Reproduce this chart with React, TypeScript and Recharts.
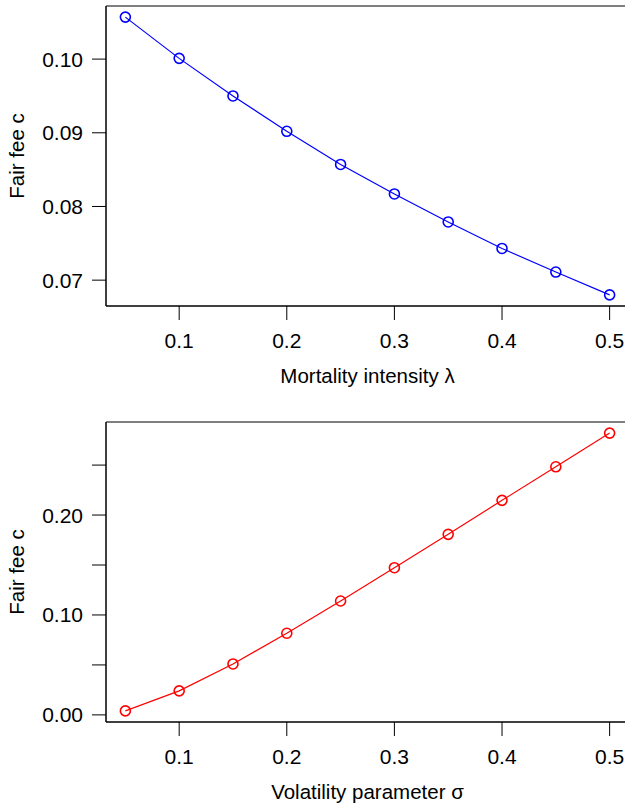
import React from 'react'
import { LineChart, Line, XAxis, YAxis, ReferenceArea, Label } from 'recharts'

const xValues = [0.05, 0.1, 0.15, 0.2, 0.25, 0.3, 0.35, 0.4, 0.45, 0.5]
const mortalityFee = [0.1057, 0.1001, 0.095, 0.0902, 0.0857, 0.0817, 0.0779, 0.0743, 0.0711, 0.068]
const volatilityFee = [0.004, 0.024, 0.051, 0.0817, 0.114, 0.1473, 0.1807, 0.2147, 0.2483, 0.282]

const xTicks = [0.1, 0.2, 0.3, 0.4, 0.5]
const xTickLabels = ['0.1', '0.2', '0.3', '0.4', '0.5']
const mortalityTicks = [0.07, 0.08, 0.09, 0.1]
const mortalityTickLabels = ['0.07', '0.08', '0.09', '0.10']
const volatilityTicks = [0, 0.05, 0.1, 0.15, 0.2, 0.25]
const volatilityTickLabels = ['0.00', '', '0.10', '', '0.20', '']

const FONT = '"Liberation Sans", Arial, sans-serif'

// R-style axis range: data range padded by 4% on each side
function padRange(values: number[]): [number, number] {
  const min = Math.min(...values)
  const max = Math.max(...values)
  const pad = (max - min) * 0.04
  return [min - pad, max + pad]
}

function labelFor(ticks: number[], labels: string[]) {
  return (v: number) => {
    const i = ticks.findIndex(t => Math.abs(t - v) < 1e-9)
    return i >= 0 ? labels[i] : ''
  }
}

interface PanelProps {
  values: number[]
  color: string
  yTicks: number[]
  yTickLabels: string[]
  xLabel: string
  height: number
  axisHeight: number
}

function Panel({ values, color, yTicks, yTickLabels, xLabel, height, axisHeight }: PanelProps) {
  const data = xValues.map((x, i) => ({ x, y: values[i] }))
  const xDomain = padRange(xValues)
  const yDomain = padRange(values)
  const tickStyle = { fontSize: 21, fontFamily: FONT, fill: '#000' }

  return (
    <LineChart
      width={640}
      height={height}
      data={data}
      margin={{ top: 6, right: 11, bottom: height - 306 - axisHeight, left: 10 }}
    >
      <XAxis
        type="number"
        dataKey="x"
        domain={xDomain}
        ticks={xTicks}
        tickFormatter={labelFor(xTicks, xTickLabels)}
        allowDataOverflow
        height={axisHeight}
        tickSize={14}
        tickMargin={13}
        tick={tickStyle}
        stroke="#000"
        axisLine={{ stroke: '#000' }}
        tickLine={{ stroke: '#000' }}
      >
        <Label
          content={(props: any) => {
            const vb = props.viewBox
            return (
              <text
                x={vb.x + vb.width / 2}
                y={vb.y + 77}
                textAnchor="middle"
                fontSize={20.5}
                fontFamily={FONT}
                fill="#000"
              >
                {xLabel}
              </text>
            )
          }}
        />
      </XAxis>
      <YAxis
        type="number"
        dataKey="y"
        domain={yDomain}
        ticks={yTicks}
        tickFormatter={labelFor(yTicks, yTickLabels)}
        allowDataOverflow
        width={96}
        tickSize={14}
        tickMargin={9}
        tick={tickStyle}
        stroke="#000"
        axisLine={{ stroke: '#000' }}
        tickLine={{ stroke: '#000' }}
      >
        <Label
          content={(props: any) => {
            const vb = props.viewBox
            const cx = vb.x + 14
            const cy = vb.y + vb.height / 2
            return (
              <text
                x={cx}
                y={cy}
                transform={`rotate(-90, ${cx}, ${cy})`}
                textAnchor="middle"
                fontSize={20.5}
                fontFamily={FONT}
                fill="#000"
              >
                Fair fee c
              </text>
            )
          }}
        />
      </YAxis>
      <ReferenceArea
        x1={xDomain[0]}
        x2={xDomain[1]}
        y1={yDomain[0]}
        y2={yDomain[1]}
        fill="none"
        stroke="#000"
        strokeWidth={1}
        ifOverflow="visible"
      />
      <Line
        type="linear"
        dataKey="y"
        stroke={color}
        strokeWidth={1.2}
        dot={{ r: 5, stroke: color, strokeWidth: 1.6, fill: 'none' }}
        activeDot={false}
        isAnimationActive={false}
      />
    </LineChart>
  )
}

export default function App() {
  return (
    <div
      style={{
        position: 'absolute',
        left: 0,
        top: 0,
        width: 625,
        height: 803,
        overflow: 'hidden',
        background: '#fff',
      }}
    >
      <div style={{ position: 'absolute', left: 0, top: 0 }}>
        <Panel
          values={mortalityFee}
          color="#0000FF"
          yTicks={mortalityTicks}
          yTickLabels={mortalityTickLabels}
          xLabel="Mortality intensity λ"
          height={410}
          axisHeight={94}
        />
      </div>
      <div style={{ position: 'absolute', left: 0, top: 416 }}>
        <Panel
          values={volatilityFee}
          color="#FF0000"
          yTicks={volatilityTicks}
          yTickLabels={volatilityTickLabels}
          xLabel="Volatility parameter σ"
          height={387}
          axisHeight={75}
        />
      </div>
    </div>
  )
}
